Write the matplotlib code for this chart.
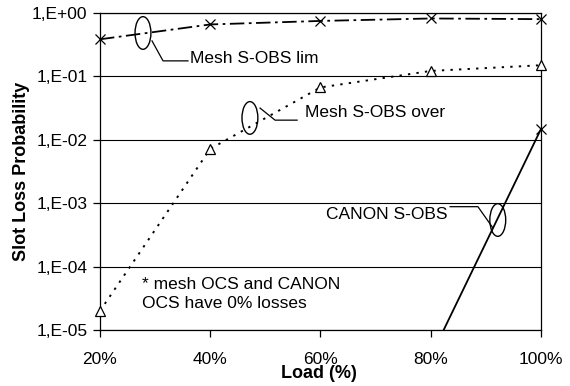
import numpy as np
import matplotlib
matplotlib.use('Agg')
import matplotlib.pyplot as plt
from matplotlib.patches import Ellipse
from matplotlib.ticker import FixedLocator, FuncFormatter, NullLocator

plt.rcParams['font.family'] = ['Liberation Sans', 'DejaVu Sans']

# Data
load = [20, 40, 60, 80, 100]
mesh_lim = [0.385, 0.66, 0.75, 0.82, 0.80]
mesh_over = [2.0e-5, 7.2e-3, 0.067, 0.122, 0.15]
canon = [np.nan, np.nan, np.nan, 3.8e-6, 1.48e-2]
y_ticks = [1e-5, 1e-4, 1e-3, 1e-2, 1e-1, 1e0]

fig = plt.figure(figsize=(5.7, 3.86), dpi=100)
ax = fig.add_axes([0.1754, 0.1451, 0.7737, 0.8212])

ax.plot(load, mesh_lim, color='black', lw=1.3, linestyle=(0, (8, 2.5, 1.5, 2.5)),
        marker='x', markersize=7, markeredgewidth=0.9, zorder=3, clip_on=False)
ax.plot(load, mesh_over, color='black', lw=1.4, linestyle=(0, (1.2, 3.2)),
        marker='^', markersize=6.5, markerfacecolor='white', markeredgewidth=0.9,
        zorder=3, clip_on=False)
# canon line must stay clipped at the bottom, marker at 100% drawn unclipped
ax.plot(load, canon, color='black', lw=1.3, linestyle='-', zorder=3)
ax.plot(load[-1:], canon[-1:], color='black', linestyle='none',
        marker='x', markersize=7, markeredgewidth=0.9, zorder=3, clip_on=False)

ax.set_yscale('log')
ax.set_ylim(1e-5, 1)
ax.set_xlim(20, 100)
ax.yaxis.set_major_locator(FixedLocator(y_ticks))
ax.yaxis.set_minor_locator(NullLocator())
ax.yaxis.set_major_formatter(FuncFormatter(lambda v, p: '1,E%+03d' % round(np.log10(v))))
ax.set_xticks(load)
ax.set_xticklabels(['%d%%' % v for v in load])
ax.tick_params(axis='both', direction='out', length=5, width=0.9, labelsize=12.5, colors='black')
ax.tick_params(axis='x', pad=10.5)
ax.tick_params(axis='y', pad=4)
ax.grid(axis='y', color='black', lw=0.8)
for s in ax.spines.values():
    s.set_linewidth(0.9)

ax.set_ylabel('Slot Loss Probability', fontsize=13, fontweight='bold', va='center')
ax.yaxis.set_label_coords(-0.179, 0.5)
ax.set_xlabel('Load (%)', fontsize=13, fontweight='bold', va='center')
ax.xaxis.set_label_coords(0.497, -0.138)

# callouts
tr = ax.transAxes
def callout(cx, cy, path, tx, ty, text, ha='left'):
    ax.add_patch(Ellipse((cx, cy), 0.036, 0.103, transform=tr, fill=False,
                         edgecolor='black', lw=1.0, zorder=4))
    xs, ys = zip(*path)
    ax.plot(xs, ys, color='black', lw=0.9, transform=tr, zorder=4)
    ax.text(tx, ty, text, transform=tr, fontsize=12.5, ha=ha, va='center')

callout(0.0975, 0.937, [(0.118, 0.912), (0.143, 0.849), (0.1995, 0.849)],
        0.204, 0.857, 'Mesh S-OBS lim')
callout(0.340, 0.669, [(0.363, 0.700), (0.397, 0.662), (0.447, 0.662)],
        0.465, 0.686, 'Mesh S-OBS over')
callout(0.902, 0.347, [(0.794, 0.389), (0.857, 0.389), (0.891, 0.322)],
        0.789, 0.363, 'CANON S-OBS', ha='right')

ax.text(0.095, 0.115, '* mesh OCS and CANON\nOCS have 0% losses', transform=tr,
        fontsize=12.5, ha='left', va='center', linespacing=1.33)

fig.savefig('out.png', dpi=100)
